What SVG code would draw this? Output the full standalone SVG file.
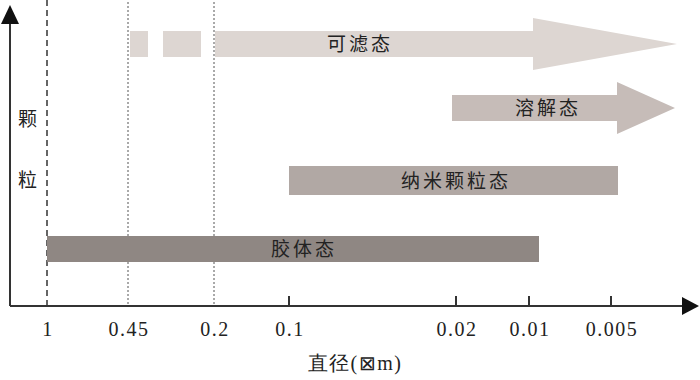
<svg xmlns="http://www.w3.org/2000/svg" width="700" height="380" viewBox="0 0 700 380">
<style>
.lbl{font-family:"Liberation Serif","Noto Sans CJK SC",serif;font-size:19px;fill:#222;text-anchor:middle;dominant-baseline:central;letter-spacing:3px}
.tk{font-family:"Liberation Serif",serif;font-size:20px;fill:#222;text-anchor:middle;letter-spacing:1.5px}
.ax{stroke:#333;stroke-width:2;fill:none}
</style>
<rect width="700" height="380" fill="#fff"/>
<g id="guides">
<line x1="47" y1="0" x2="47" y2="306" stroke="#333" stroke-width="1.5" stroke-dasharray="6,4"/>
<line x1="128" y1="2" x2="128" y2="306" stroke="#555" stroke-width="1" stroke-dasharray="2,2"/>
<line x1="214" y1="2" x2="214" y2="306" stroke="#555" stroke-width="1" stroke-dasharray="2,2"/>
</g>
<g id="filterable">
<rect x="130" y="31" width="18" height="26" fill="#ddd6d2"/>
<rect x="163" y="31" width="38" height="26" fill="#ddd6d2"/>
<polygon points="215,31 533,31 533,18 677,44 533,70 533,57 215,57" fill="#ddd6d2"/>
<text class="lbl" x="360" y="44">可滤态</text>
</g>
<g id="dissolved">
<polygon points="452,95 617,95 617,82 675,108 617,134 617,121 452,121" fill="#c6bcb8"/>
<text class="lbl" x="548" y="108">溶解态</text>
</g>
<g id="nano">
<rect x="289" y="166" width="329" height="29" fill="#b1a8a4"/>
<text class="lbl" x="456" y="181">纳米颗粒态</text>
</g>
<g id="colloid">
<rect x="47" y="236" width="492" height="26" fill="#8f8783"/>
<text class="lbl" x="304" y="249">胶体态</text>
</g>
<g id="axes">
<line class="ax" x1="10" y1="306" x2="684" y2="306"/>
<polygon points="682,297 699,306 682,315" fill="#111"/>
<line class="ax" x1="10" y1="306" x2="10" y2="22"/>
<polygon points="1,24 10,5 19,24" fill="#111"/>
<line class="ax" x1="289" y1="296" x2="289" y2="306" stroke-width="1.5"/>
<line class="ax" x1="456" y1="296" x2="456" y2="306" stroke-width="1.5"/>
<line class="ax" x1="529" y1="296" x2="529" y2="306" stroke-width="1.5"/>
<line class="ax" x1="611" y1="296" x2="611" y2="306" stroke-width="1.5"/>
<text class="tk" x="48" y="336">1</text>
<text class="tk" x="129" y="336">0.45</text>
<text class="tk" x="215" y="336">0.2</text>
<text class="tk" x="290" y="336">0.1</text>
<text class="tk" x="457" y="336">0.02</text>
<text class="tk" x="530" y="336">0.01</text>
<text class="tk" x="612" y="336">0.005</text>
<text class="tk" x="355" y="370" letter-spacing="0">直径(⊠m)</text>
<text class="lbl" x="29" y="119">颗</text>
<text class="lbl" x="29" y="180">粒</text>
</g>
</svg>
